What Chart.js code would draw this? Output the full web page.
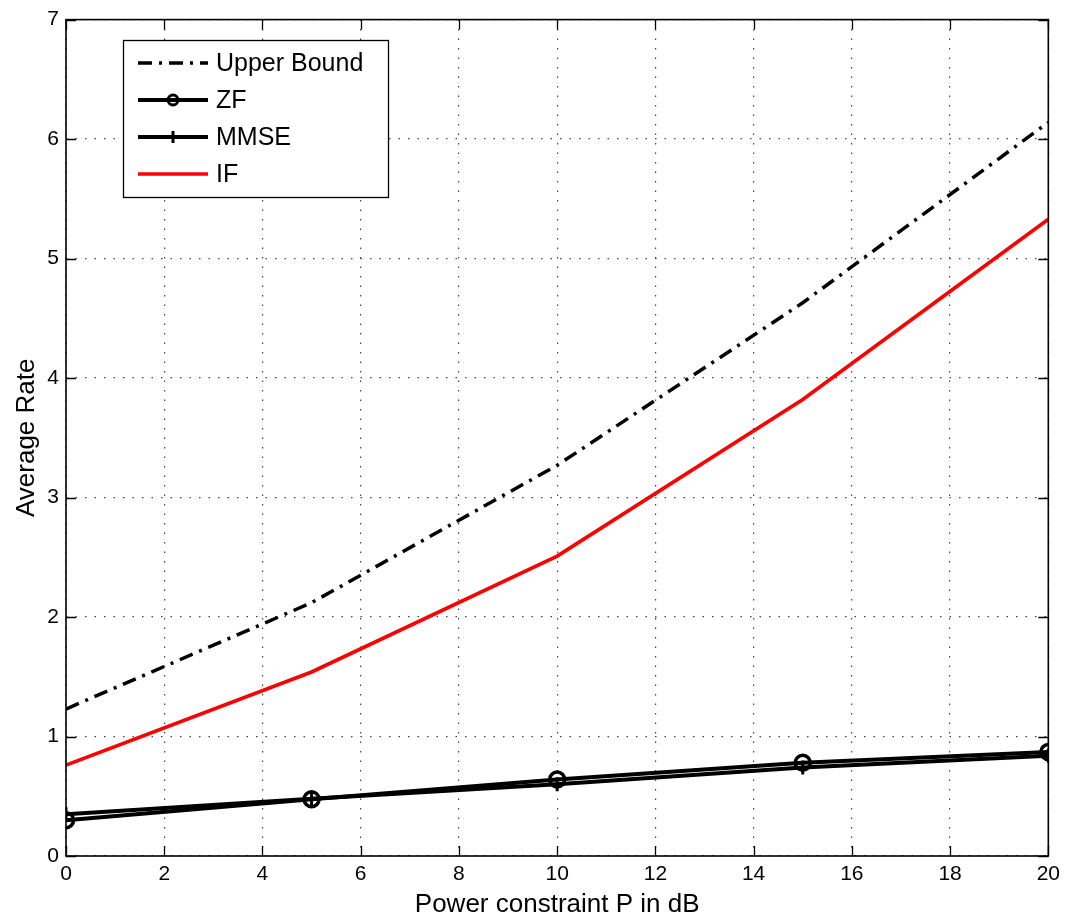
<!DOCTYPE html>
<html>
<head>
<meta charset="utf-8">
<script src="https://cdn.jsdelivr.net/npm/chart.js@4.4.1/dist/chart.umd.min.js"></script>
<style>
html,body{margin:0;padding:0;background:#fff;}
#wrap{width:1066px;height:916px;position:relative;}
</style>
</head>
<body>
<div id="wrap"><canvas id="c" width="1066" height="916"></canvas></div>
<script>
const powerDb = [0, 5, 10, 15, 20];
const upperBound = [1.23, 2.12, 3.27, 4.63, 6.14];
const zf = [0.30, 0.475, 0.64, 0.78, 0.87];
const mmse = [0.35, 0.48, 0.60, 0.74, 0.84];
const ifRate = [0.76, 1.54, 2.51, 3.82, 5.33];
const seriesNames = ['Upper Bound', 'ZF', 'MMSE', 'IF'];
const xTitle = 'Power constraint P in dB';
const yTitle = 'Average Rate';

const FONT = '"Liberation Sans", Arial, Helvetica, sans-serif';
const toPts = arr => arr.map((v, i) => ({x: powerDb[i], y: v}));

const boxTicks = {
  id: 'boxTicks',
  afterDatasetsDraw(chart) {
    const {ctx, chartArea: a, scales} = chart;
    ctx.save();
    ctx.strokeStyle = '#000';
    ctx.lineWidth = 1.3;
    const L = 10;
    ctx.beginPath();
    scales.x.ticks.forEach(t => {
      const px = Math.round(scales.x.getPixelForValue(t.value)) + 0.5;
      ctx.moveTo(px, a.bottom); ctx.lineTo(px, a.bottom - L);
      ctx.moveTo(px, a.top); ctx.lineTo(px, a.top + L);
    });
    scales.y.ticks.forEach(t => {
      const py = Math.round(scales.y.getPixelForValue(t.value)) + 0.5;
      ctx.moveTo(a.left, py); ctx.lineTo(a.left + L, py);
      ctx.moveTo(a.right, py); ctx.lineTo(a.right - L, py);
    });
    ctx.stroke();
    ctx.lineWidth = 1.6;
    ctx.strokeRect(a.left, a.top, a.right - a.left, a.bottom - a.top);
    ctx.restore();
  }
};

const legendBox = {
  id: 'legendBox',
  afterDraw(chart) {
    const {ctx} = chart;
    const x0 = 123, y0 = 40, w = 265, h = 157;
    ctx.save();
    ctx.fillStyle = '#fff';
    ctx.fillRect(x0, y0, w, h);
    ctx.strokeStyle = '#000';
    ctx.lineWidth = 1.3;
    ctx.strokeRect(x0 + 0.5, y0 + 0.5, w, h);
    const rows = [63, 100, 137, 174];
    chart.data.datasets.forEach((ds, i) => {
      const y = rows[i];
      ctx.strokeStyle = ds.borderColor;
      ctx.lineWidth = ds.borderWidth;
      ctx.setLineDash(ds.borderDash || []);
      ctx.beginPath();
      ctx.moveTo(138, y); ctx.lineTo(208, y);
      ctx.stroke();
      ctx.setLineDash([]);
      if (ds.pointRadius > 0) {
        ctx.lineWidth = 3;
        ctx.strokeStyle = ds.pointBorderColor;
        const cx = 173;
        if (ds.pointStyle === 'circle') {
          ctx.beginPath(); ctx.arc(cx, y, 5, 0, Math.PI * 2); ctx.stroke();
        } else if (ds.pointStyle === 'cross') {
          ctx.beginPath();
          ctx.moveTo(cx, y - 6); ctx.lineTo(cx, y + 6);
          ctx.stroke();
        }
      }
      ctx.fillStyle = '#000';
      ctx.font = '25px ' + FONT;
      ctx.textBaseline = 'middle';
      ctx.textAlign = 'left';
      ctx.fillText(ds.label, 216, y + 1);
    });
    ctx.restore();
  }
};

new Chart(document.getElementById('c'), {
  type: 'line',
  data: {
    datasets: [
      {label: seriesNames[0], data: toPts(upperBound), borderColor: '#000', borderWidth: 3.5,
       borderDash: [14, 7, 3, 7], pointRadius: 0, pointBorderWidth: 0, pointBorderColor: '#000'},
      {label: seriesNames[1], data: toPts(zf), borderColor: '#000', borderWidth: 4,
       pointStyle: 'circle', pointRadius: 7.5, pointBorderWidth: 3.5, pointBorderColor: '#000',
       pointBackgroundColor: 'rgba(0,0,0,0)'},
      {label: seriesNames[2], data: toPts(mmse), borderColor: '#000', borderWidth: 4,
       pointStyle: 'cross', pointRadius: 7, pointBorderWidth: 3, pointBorderColor: '#000'},
      {label: seriesNames[3], data: toPts(ifRate), borderColor: '#ff0000', borderWidth: 3.6,
       pointRadius: 0, pointBorderWidth: 0, pointBorderColor: '#ff0000'}
    ]
  },
  options: {
    responsive: false,
    animation: false,
    layout: {padding: {left: 0, right: 17, top: 15, bottom: 0}},
    plugins: {legend: {display: false}, tooltip: {enabled: false}},
    elements: {line: {tension: 0}},
    scales: {
      x: {
        type: 'linear', min: 0, max: 20,
        ticks: {stepSize: 2, color: '#000', font: {family: FONT, size: 21}, padding: 6, maxRotation: 0},
        grid: {color: '#444', lineWidth: 1.2, drawTicks: false},
        border: {display: false, dash: [1.5, 8]},
        title: {display: true, text: xTitle, color: '#000', font: {family: FONT, size: 26}, padding: {top: 0, bottom: -4}},
        afterFit(s) { s.height = 60; }
      },
      y: {
        type: 'linear', min: 0, max: 7,
        ticks: {stepSize: 1, color: '#000', font: {family: FONT, size: 21}, padding: 7},
        grid: {color: '#444', lineWidth: 1.2, drawTicks: false},
        border: {display: false, dash: [1.5, 8]},
        title: {display: true, text: yTitle, color: '#000', font: {family: FONT, size: 26}, padding: {top: 11, bottom: 0}},
        afterFit(s) { s.width = 66; }
      }
    }
  },
  plugins: [boxTicks, legendBox]
});
</script>
</body>
</html>
